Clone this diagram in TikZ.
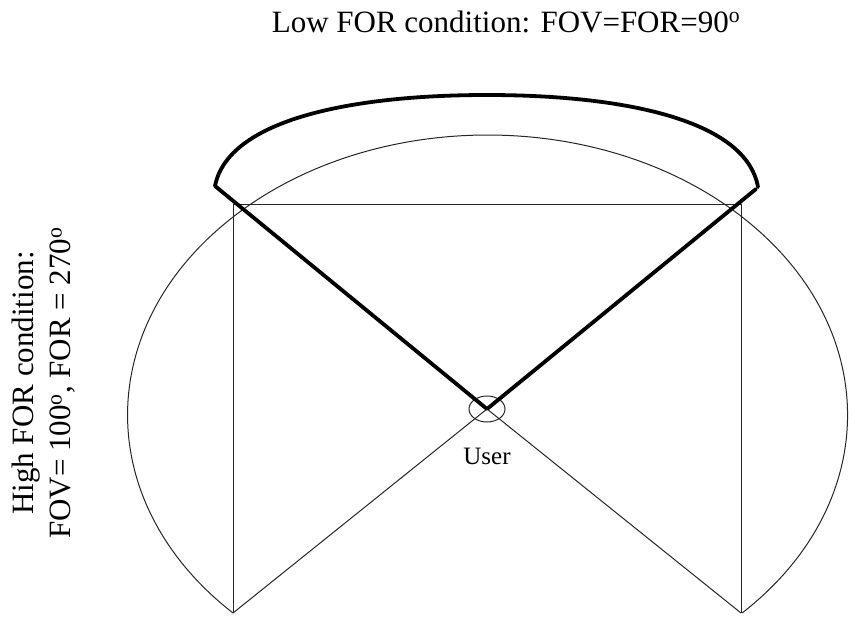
\documentclass[tikz,border=0pt]{standalone}
\usepackage{fontspec}
\setmainfont{Liberation Serif}
\usetikzlibrary{shapes.geometric}

\begin{document}
\begin{tikzpicture}[
    x=1pt, y=1pt,
    every node/.style={font=\fontsize{31}{37}\selectfont, inner sep=0pt},
    thinline/.style={line width=1pt, black!85},
    fovline/.style={line width=3.8pt, line join=round, line cap=round},
    userring/.style={draw, ellipse, line width=1pt, black!85,
        minimum width=36pt, minimum height=26pt},
    caption/.style={align=center}
]
\useasboundingbox (0,0) rectangle (849,-616);

% Labels
\node[caption, anchor=base] (low) at (506,-32)
  {Low FOR condition: FOV=FOR=90\textsuperscript{o}};
\node[caption, rotate=90, anchor=north] (high) at (12,-383)
  {High FOR condition:\\FOV= 100\textsuperscript{o}, FOR = 270\textsuperscript{o}};

% User
\node[userring] (user) at (487,-409) {};
\node[anchor=base, font=\fontsize{25}{30}\selectfont] (userlabel) at (487,-464) {User};

% Corner points
\coordinate (tl) at (233,-204);
\coordinate (tr) at (741,-204);
\coordinate (bl) at (233,-613);
\coordinate (br) at (741,-613);
\coordinate (fl) at (215,-186);
\coordinate (fr) at (756,-189);
\coordinate (al) at (215,-186);
\coordinate (ar) at (758,-187);

% High FOR: 270 degree field
\draw[thinline] (bl) arc[start angle=225, end angle=-45, x radius=360, y radius=280];
\draw[thinline] (bl) -- (tl) -- (tr) -- (br);
\draw[thinline] (user.center) -- (bl);
\draw[thinline] (user.center) -- (br);

% Low FOR: 90 degree field
\draw[fovline] (fl) -- (user.center) -- (fr);
\draw[fovline] (al) .. controls (228,-120) and (350,-95) .. (487,-95)
                    .. controls (624,-95) and (746,-120) .. (ar);

\end{tikzpicture}
\end{document}
